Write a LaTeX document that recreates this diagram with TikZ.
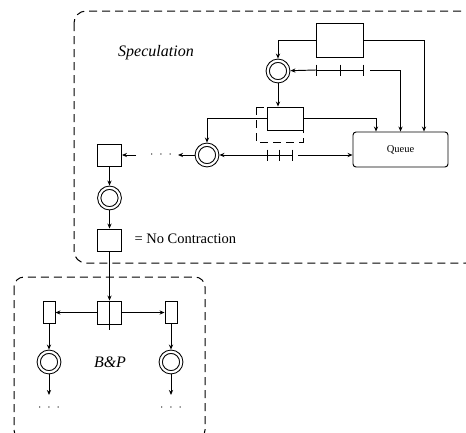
\documentclass[tikz,border=0pt]{standalone}
\usepackage{fontspec}
\setmainfont{Liberation Serif}
\usetikzlibrary{arrows.meta, positioning, calc}

\begin{document}
\begin{tikzpicture}[x=1pt, y=-1pt,
  box/.style={draw, line width=0.95pt, inner sep=0pt, minimum width=24pt, minimum height=22pt},
  bar/.style={box, minimum width=12pt},
  circ/.style={circle, draw, double, double distance=2.2pt, line width=1pt, minimum size=20.5pt, inner sep=0pt, outer sep=2.2pt},
  grp/.style={draw, line width=1pt, dash pattern=on 8pt off 5pt},
  lab/.style={font=\fontsize{16}{18}\selectfont\itshape},
  txt/.style={font=\fontsize{14.5}{16}\selectfont},
  dts/.style={font=\fontsize{12}{14}\selectfont, inner sep=0pt},
  arr/.style={-{Stealth[length=5pt, width=4.2pt]}, line width=0.95pt},
  ln/.style={line width=0.95pt}]
\clip (0,0) rectangle (466,432);
% groups
\draw[grp, rounded corners=12pt] (74,11) rectangle (478,263);
\draw[grp, rounded corners=10pt] (14,277) rectangle (205,440);
\draw[grp] (256,107) rectangle (303,142);
\node[lab] (spec) at (156,53) {Speculation};
\node[lab] (bp) at (110,362) {B\&P};
% speculation part
\node[box, minimum width=47pt, minimum height=34pt] (tb) at (339.5,40) {};
\node[circ] (s1) at (278,71) {};
\node[box, minimum width=36pt, minimum height=23pt] (mb) at (285,118.5) {};
\node[circ] (s2) at (207,155) {};
\node[box, rounded corners=3pt, minimum width=95pt, minimum height=35pt, font=\fontsize{10.5}{12}\selectfont] (q) at (400.5,149.5) {Queue};
\coordinate (t1l) at (316,70); \coordinate (t1r) at (370,70);
\coordinate (t2l) at (267,155); \coordinate (t2r) at (298,155);
\foreach \x in {316,340,363} \draw[ln] (\x,64.5) -- (\x,75.5);
\foreach \x in {267,279.5,292} \draw[ln] (\x,149.5) -- (\x,160.5);
\draw[ln] (316,70) -- (363,70); \draw[ln] (267,155) -- (292,155);
\draw[arr] (tb.west) -| (s1); \draw[arr] (tb.east) -| ([xshift=23.5pt]q.north);
\draw[arr] (t1l) -- (s1); \draw[arr] (t1r) -| (q.north);
\draw[arr] (s1) -- (s1 |- mb.north);
\draw[arr] (mb.east) -| ([xshift=-24.5pt]q.north); \draw[arr] (mb.west) -| (s2);
\draw[arr] (t2l) -- (s2); \draw[arr] (t2r) -- (t2r -| q.west);
% contraction chain
\node[box] (b1) at (109.5,155) {};
\node[circ] (s3) at (109.5,198) {};
\node[box] (b2) at (109.5,240) {};
\node[txt, anchor=west] (nc) at (131,239) {= No Contraction};
\coordinate (d1) at (178,155); \coordinate (d2) at (136,155);
\node[dts] (dd) at (161,155) {$\cdot\;\cdot\;\cdot$};
\draw[arr] (s2) -- (d1); \draw[arr] (d2) -- (b1);
\draw[arr] (b1) -- (s3); \draw[arr] (s3) -- (b2);
% branch and price
\node[box, minimum height=23pt] (b5) at (109.5,312.5) {};
\node[bar] (l1) at (49,312) {};
\node[bar] (r1) at (171,312) {};
\node[circ] (sl) at (49,362) {};
\node[circ] (sr) at (171,362) {};
\coordinate (el) at (49,395); \coordinate (er) at (171,395);
\node[dts] (dl) at (49,408) {$\cdot\;\cdot\;\cdot$};
\node[dts] (dr) at (171,408) {$\cdot\;\cdot\;\cdot$};
\draw[arr] (b2) -- (b5); \draw[ln] (b5.north) -- ([yshift=-6pt]b5.south);
\draw[arr] (b5.west) -- (l1.east |- b5.west); \draw[arr] (b5.east) -- (r1.west |- b5.east);
\draw[arr] (l1) -- (sl); \draw[arr] (r1) -- (sr);
\draw[arr] (sl) -- (el); \draw[arr] (sr) -- (er);
\end{tikzpicture}
\end{document}
